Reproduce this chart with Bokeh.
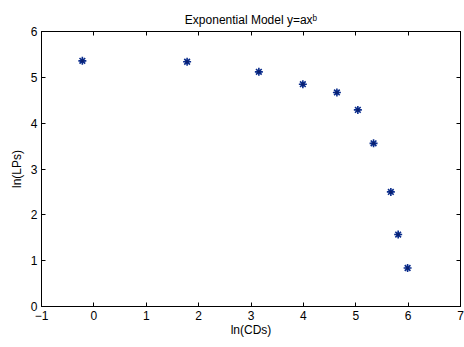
from bokeh.plotting import figure
from bokeh.models import LinearAxis, FixedTicker, Range1d
from bokeh.embed import file_html
from bokeh.resources import INLINE

ln_cds = [-0.22, 1.78, 3.15, 3.99, 4.64, 5.04, 5.34, 5.67, 5.81, 5.99]
ln_lps = [5.36, 5.34, 5.12, 4.85, 4.67, 4.29, 3.56, 2.50, 1.57, 0.84]
x_ticks = [-1, 0, 1, 2, 3, 4, 5, 6, 7]
y_ticks = [0, 1, 2, 3, 4, 5, 6]

FONT = "Liberation Sans"

p = figure(width=464, height=347, output_backend="svg", toolbar_location=None,
           x_range=Range1d(-1, 7), y_range=Range1d(0, 6),
           min_border_left=41, min_border_right=4, min_border_top=31, min_border_bottom=41,
           x_axis_label="ln(CDs)", y_axis_label="ln(LPs)",
           title="Exponential Model y=ax\u1d47")
p.grid.visible = False
p.outline_line_color = "black"
p.outline_line_width = 1
p.title.align = "center"
p.title.text_font = FONT
p.title.text_font_size = "12px"
p.title.text_font_style = "normal"
p.title.text_color = "black"
p.title.standoff = 10

for ax in (p.xaxis[0], p.yaxis[0]):
    ax.major_tick_in = 4
    ax.major_tick_out = 0
    ax.minor_tick_line_color = None
    ax.axis_line_color = "black"
    ax.major_tick_line_color = "black"
    ax.major_label_text_font = FONT
    ax.major_label_text_font_size = "12px"
    ax.major_label_text_color = "black"
    ax.axis_label_text_font = FONT
    ax.axis_label_text_font_size = "12px"
    ax.axis_label_text_font_style = "normal"
    ax.axis_label_text_color = "black"
    ax.major_label_standoff = 4
    ax.axis_label_standoff = 4
p.xaxis[0].axis_label_standoff = 0
p.xaxis[0].ticker = FixedTicker(ticks=x_ticks)
p.yaxis[0].ticker = FixedTicker(ticks=y_ticks)

right = LinearAxis(ticker=FixedTicker(ticks=y_ticks), major_tick_in=4, major_tick_out=0,
                   minor_tick_line_color=None, major_label_text_font_size="1px",
                   major_label_text_color=None, major_label_standoff=0, axis_line_color="black")
top = LinearAxis(ticker=FixedTicker(ticks=x_ticks), major_tick_in=4, major_tick_out=0,
                 minor_tick_line_color=None, major_label_text_font_size="1px",
                 major_label_text_color=None, major_label_standoff=0, axis_line_color="black")
p.add_layout(right, "right")
p.add_layout(top, "above")

p.scatter(ln_cds, ln_lps, marker="asterisk", size=8, line_color="#0b2d8c", line_width=1.6)
p.scatter(ln_cds, ln_lps, marker="circle", size=3, fill_color="#0a1f6e", line_color=None)

open("out.html", "w").write(file_html(p, INLINE))
